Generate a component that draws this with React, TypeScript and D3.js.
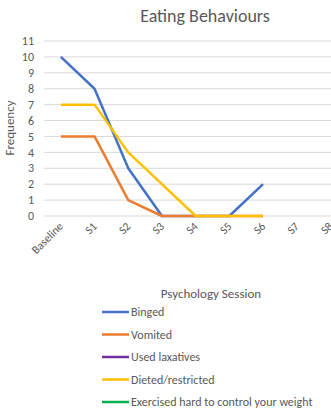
import React from "react";
import * as d3 from "d3";

const categories = ["Baseline", "S1", "S2", "S3", "S4", "S5", "S6", "S7", "S8"];
const yTicks = [0, 1, 2, 3, 4, 5, 6, 7, 8, 9, 10, 11];
const binged: (number | null)[] = [10, 8, 3, 0, 0, 0, 2, null, null];
const vomited: (number | null)[] = [5, 5, 1, 0, 0, 0, 0, null, null];
const laxatives: (number | null)[] = [null, null, null, null, null, null, null, null, null];
const dieted: (number | null)[] = [7, 7, 4, 2, 0, 0, 0, null, null];
const exercised: (number | null)[] = [null, null, null, null, null, null, null, null, null];

const seriesNames = ["Binged", "Vomited", "Used laxatives", "Dieted/restricted", "Exercised hard to control your weight"];
const seriesData = [binged, vomited, laxatives, dieted, exercised];
const colors = ["#4472C4", "#ED7D31", "#7030A0", "#FFC000", "#00B050"];

export default function App() {
  const W = 331, H = 413;
  const font = "Calibri, Carlito, 'Liberation Sans', Arial, sans-serif";
  const x = d3.scaleBand().domain(categories).range([44, 44 + 9 * 33.7]);
  const y = d3.scaleLinear().domain([0, 11]).range([216, 41]);
  const cx = (c: string) => (x(c) as number) + x.bandwidth() / 2;
  const line = d3
    .line<number | null>()
    .defined((d) => d !== null)
    .x((_, i) => cx(categories[i]))
    .y((d) => y(d as number));
  const drawOrder = [0, 1, 2, 3, 4];
  return (
    <svg width={W} height={H} style={{ position: "absolute", left: 0, top: 0, background: "#fff" }} fontFamily={font}>
      <text x={205} y={22} textAnchor="middle" fontSize={18} fill="#595959">Eating Behaviours</text>
      {yTicks.map((t) => (
        <g key={t}>
          <line x1={44} x2={W} y1={y(t)} y2={y(t)} stroke="#D9D9D9" strokeWidth={1} />
          <text x={34} y={y(t)} dy="0.35em" textAnchor="end" fontSize={12} fill="#595959">{t}</text>
        </g>
      ))}
      <text transform={`translate(14,${128}) rotate(-90)`} textAnchor="middle" fontSize={13} fill="#595959">Frequency</text>
      {categories.map((c) => (
        <text key={c} transform={`translate(${cx(c) + 3},${227}) rotate(-45)`} textAnchor="end" fontSize={11.5} fill="#595959">{c}</text>
      ))}
      {drawOrder.map((i) => (
        <path key={i} d={line(seriesData[i]) || ""} fill="none" stroke={colors[i]} strokeWidth={2.5} strokeLinejoin="round" />
      ))}
      <text x={211} y={298} textAnchor="middle" fontSize={13} fill="#595959">Psychology Session</text>
      {seriesNames.map((n, i) => (
        <g key={n}>
          <line x1={102} x2={129} y1={312 + i * 22.5} y2={312 + i * 22.5} stroke={colors[i]} strokeWidth={2.5} />
          <text x={131} y={312 + i * 22.5} dy="0.35em" fontSize={12} fill="#595959">{n}</text>
        </g>
      ))}
    </svg>
  );
}
